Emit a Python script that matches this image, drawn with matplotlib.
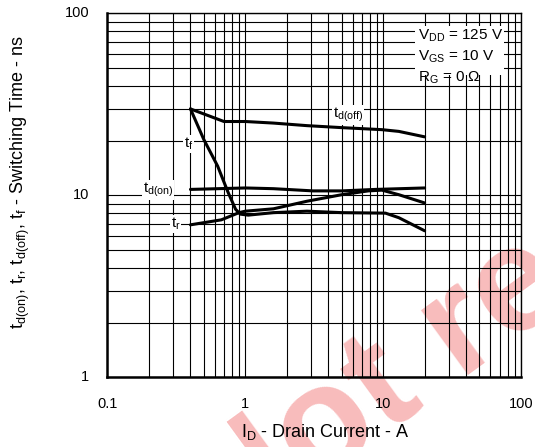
import matplotlib
matplotlib.use("Agg")
import matplotlib.pyplot as plt
import matplotlib.patches as patches

plt.rcParams['font.family'] = ['Liberation Sans', 'DejaVu Sans']
plt.rcParams['mathtext.default'] = 'regular'

# curves (ID in A, time in ns)
id_doff = [0.4, 0.7, 1.0, 1.6, 2.8, 5.0, 9.8, 13, 20]
t_doff = [29.9, 25.5, 25.5, 25.0, 24.2, 23.6, 23.0, 22.5, 21.0]

id_f = [0.4, 0.5, 0.63, 0.75, 0.85, 0.92, 1.05, 1.6, 2.8, 5.0, 10.4, 13, 20]
t_f = [29.9, 20.3, 14.5, 10.4, 8.4, 7.9, 7.8, 8.05, 8.2, 8.05, 8.0, 7.55, 6.4]

id_don = [0.4, 1.0, 1.6, 3.1, 5.0, 8.8, 20]
t_don = [10.8, 11.0, 10.9, 10.6, 10.6, 10.8, 11.0]

id_r = [0.4, 0.67, 0.9, 1.0, 1.6, 2.8, 5.0, 7.8, 9.8, 13, 20]
t_r = [6.9, 7.35, 8.05, 8.2, 8.45, 9.3, 10.1, 10.6, 10.7, 10.1, 9.1]

x_ticks = [0.1, 1, 10, 100]
x_labels = ['0.1', '1', '10', '100']
y_ticks = [1, 10, 100]
y_labels = ['1', '10', '100']

fig = plt.figure(figsize=(5.35, 4.47), dpi=100)
fig.patch.set_facecolor('white')
ax = fig.add_axes([0.2009, 0.1555, 0.7729, 0.8143])
ax.patch.set_alpha(0)

# watermark behind the plot
fig.text(0.42, -0.235, 'Not recommended', fontsize=108, fontweight='bold',
         color='#f8bcbc', rotation=36, rotation_mode='anchor',
         ha='left', va='baseline', zorder=-1)

ax.set_xscale('log')
ax.set_yscale('log')
ax.set_xlim(0.1, 100)
ax.set_ylim(1, 100)

ax.grid(True, which='both', color='black', linewidth=0.8)

for xs, ys in [(id_doff, t_doff), (id_f, t_f), (id_don, t_don), (id_r, t_r)]:
    ax.plot(xs, ys, color='black', linewidth=2.2, solid_capstyle='round', zorder=3)

ax.set_xticks(x_ticks)
ax.set_xticklabels(x_labels)
ax.set_yticks(y_ticks)
ax.set_yticklabels(y_labels)
ax.minorticks_on()
ax.tick_params(which='both', length=0, labelsize=10.5)
ax.tick_params(axis='x', pad=14)
ax.tick_params(axis='y', pad=13)
ax.xaxis.set_minor_formatter(plt.NullFormatter())
ax.yaxis.set_minor_formatter(plt.NullFormatter())
for lab in ax.get_yticklabels():
    lab.set_va('center')

for s in ['left', 'bottom']:
    ax.spines[s].set_linewidth(1.8)
for s in ['top', 'right']:
    ax.spines[s].set_linewidth(1.0)

box = dict(facecolor='white', edgecolor='none', pad=0.5)
ax.text(5.55, 27.8, 't$_{d(off)}$', fontsize=11, ha='center', va='center', bbox=box, zorder=4)
ax.text(0.387, 19.2, 't$_{f}$', fontsize=11, ha='center', va='center', bbox=box, zorder=4)
ax.text(0.234, 10.7, 't$_{d(on)}$', fontsize=11, ha='center', va='center', bbox=box, zorder=4)
ax.text(0.311, 7.0, 't$_{r}$', fontsize=11, ha='center', va='center', bbox=box, zorder=4)

# conditions box
ax.add_patch(patches.Rectangle((0.744, 0.83), 0.2149, 0.135, transform=ax.transAxes,
                               facecolor='white', edgecolor='none', zorder=2.5))
ax.text(0.7505, 0.9385, 'V$_{DD}$ = 125 V', transform=ax.transAxes, fontsize=11,
        va='center', ha='left', zorder=4)
ax.text(0.7505, 0.881, 'V$_{GS}$ = 10 V', transform=ax.transAxes, fontsize=11,
        va='center', ha='left', zorder=4)
ax.text(0.7505, 0.824, 'R$_{G}$ = 0 Ω', transform=ax.transAxes, fontsize=11,
        va='center', ha='left', zorder=4)

fig.text(325 / 535, 1 - 432 / 447, 'I$_{D}$ - Drain Current - A', fontsize=13,
         ha='center', va='center')
fig.text(20 / 535, 1 - 182 / 447,
         't$_{d(on)}$, t$_{r}$, t$_{d(off)}$, t$_{f}$ - Switching Time - ns',
         fontsize=13, ha='center', va='center', rotation=90)

fig.savefig('out.png', dpi=100, facecolor='white')
